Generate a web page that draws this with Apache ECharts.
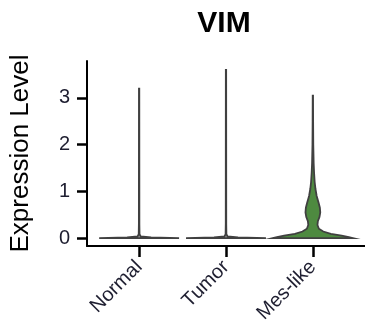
<!DOCTYPE html>
<html>
<head>
<meta charset="utf-8">
<script src="https://cdn.jsdelivr.net/npm/echarts@6/dist/echarts.min.js"></script>
<style>
  html, body { margin: 0; padding: 0; background: #fff; }
  #main { width: 365px; height: 333px; }
</style>
</head>
<body>
<div id="main"></div>
<script>
// groups on the x axis
var categories = ['Normal', 'Tumor', 'Mes-like'];
var yTicks = [0, 1, 2, 3];

// violin outlines: expression level and relative half width at that level
var normalLevels = [0, 0.015, 0.035, 0.08, 0.3, 3.2];
var normalWidths = [1.0, 0.3, 0.04, 0.01, 0.006, 0.004];

var tumorLevels = [0, 0.015, 0.035, 0.08, 0.3, 3.6];
var tumorWidths = [1.0, 0.3, 0.04, 0.01, 0.006, 0.004];

var mesLevels = [0, 0.02, 0.05, 0.09, 0.14, 0.2, 0.28, 0.36, 0.45, 0.55, 0.65, 0.75, 0.9, 1.05, 1.2, 1.4, 1.6, 2.0, 2.5, 3.05];
var mesWidths = [1.0, 0.9, 0.72, 0.45, 0.26, 0.15, 0.115, 0.125, 0.165, 0.185, 0.175, 0.145, 0.095, 0.065, 0.045, 0.03, 0.02, 0.01, 0.006, 0.004];

var profiles = [
    { levels: normalLevels, widths: normalWidths, fill: '#9a9a9a' },
    { levels: tumorLevels, widths: tumorWidths, fill: '#9a9a9a' },
    { levels: mesLevels, widths: mesWidths, fill: '#4e8a40' }
];

var maxHalf = 0.46;

function renderViolin(params, api) {
    var idx = api.value(0);
    var p = profiles[idx];
    var pts = [];
    for (var i = 0; i < p.levels.length; i++) {
        pts.push(api.coord([idx + p.widths[i] * maxHalf, p.levels[i]]));
    }
    for (var j = p.levels.length - 1; j >= 0; j--) {
        pts.push(api.coord([idx - p.widths[j] * maxHalf, p.levels[j]]));
    }
    return {
        type: 'polygon',
        shape: { points: pts },
        style: { fill: p.fill, stroke: '#404040', lineWidth: 1.8 }
    };
}

var chart = echarts.init(document.getElementById('main'));
var option = {
    animation: false,
    title: {
        text: 'VIM',
        left: 219,
        top: 4,
        textAlign: 'center',
        textStyle: { fontFamily: 'Liberation Sans', fontWeight: 'bold', fontSize: 30, color: '#000' }
    },
    grid: { left: 78, right: -5, top: 61, bottom: 87 },
    xAxis: {
        type: 'value',
        min: -0.6,
        max: 2.6,
        splitLine: { show: false },
        axisLine: { show: true, onZero: false, lineStyle: { color: '#000', width: 2 } },
        axisTick: { show: true, length: 11, customValues: [0, 1, 2], lineStyle: { color: '#000', width: 2.5 } },
        axisLabel: {
            customValues: [0, 1, 2],
            rotate: 45,
            margin: 18,
            fontFamily: 'Liberation Sans',
            fontSize: 20,
            color: '#1e1e30',
            formatter: function (v) { return categories[Math.round(v)]; }
        }
    },
    yAxis: {
        type: 'value',
        min: -0.17,
        max: 3.79,
        name: 'Expression Level',
        nameLocation: 'middle',
        nameGap: 53,
        nameRotate: 90,
        nameTextStyle: { fontFamily: 'Liberation Sans', fontSize: 26, color: '#000' },
        splitLine: { show: false },
        axisLine: { show: true, onZero: false, lineStyle: { color: '#000', width: 2 } },
        axisTick: { show: true, length: 10, customValues: yTicks, lineStyle: { color: '#000', width: 2.5 } },
        axisLabel: {
            customValues: yTicks,
            margin: 17,
            fontFamily: 'Liberation Sans',
            fontSize: 20,
            color: '#1e1e30'
        }
    },
    series: [{
        type: 'custom',
        renderItem: renderViolin,
        clip: false,
        data: [[0], [1], [2]]
    }]
};
chart.setOption(option);
</script>
</body>
</html>
